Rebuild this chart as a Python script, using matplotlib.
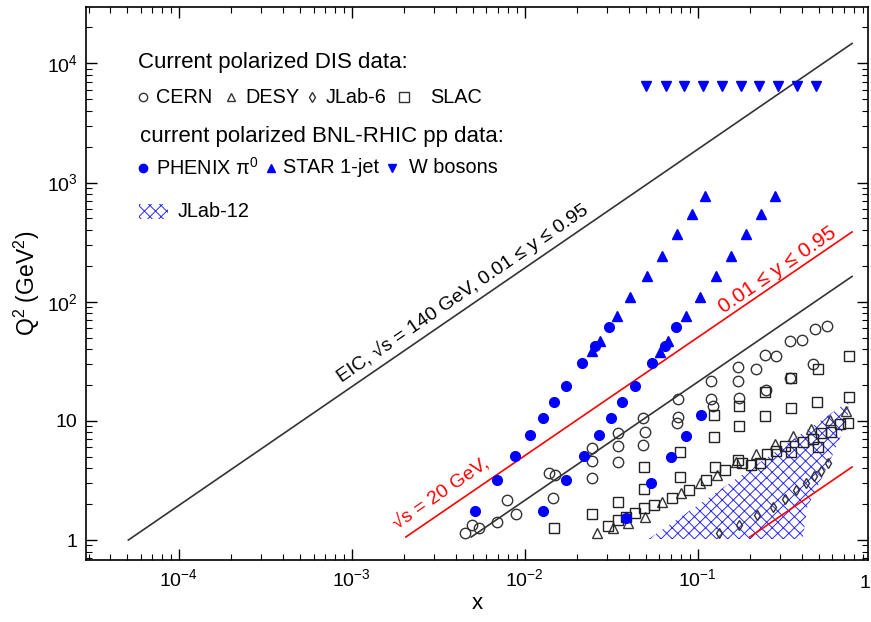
import matplotlib
matplotlib.use("Agg")
import matplotlib.pyplot as plt
from matplotlib.patches import Polygon, Rectangle

plt.rcParams['font.family'] = ['Liberation Sans', 'DejaVu Sans']
plt.rcParams['mathtext.fontset'] = 'custom'
plt.rcParams['mathtext.rm'] = 'Liberation Sans'
plt.rcParams['mathtext.it'] = 'Liberation Sans:italic'
plt.rcParams['mathtext.bf'] = 'Liberation Sans:bold'
plt.rcParams['hatch.linewidth'] = 0.7

# ---- data ----
# kinematic limit lines (end points)
eic_x = [5.1e-5, 0.78]
eic_q2 = [1.0, 14700]
red20_x = [2.05e-3, 0.78]
red20_q2 = [1.06, 385]
mid_x = [4.9e-3, 0.78]
mid_q2 = [1.06, 163]
low_x = [0.20, 0.78]
low_q2 = [1.06, 4.1]

# JLab-12 coverage region
jlab12_x = [0.052, 0.74, 0.745, 0.67, 0.56, 0.43, 0.405]
jlab12_q2 = [1.02, 14.5, 11.7, 7.38, 4.08, 1.89, 1.02]

cern_x = [0.00450, 0.00492, 0.00544, 0.00686, 0.00884, 0.00784, 0.0138, 0.0149, 0.0145,
          0.0243, 0.0245, 0.0245, 0.0346, 0.0346, 0.0344, 0.0483, 0.0494, 0.0483,
          0.0769, 0.0769, 0.0759, 0.120, 0.120, 0.123, 0.171, 0.171, 0.173,
          0.244, 0.247, 0.218, 0.285, 0.340, 0.401, 0.464, 0.475, 0.559, 0.340]
cern_q2 = [1.14, 1.34, 1.25, 1.41, 1.64, 2.17, 3.68, 3.52, 2.24,
           3.34, 4.61, 5.90, 7.97, 6.20, 4.50, 10.5, 8.13, 6.29,
           15.3, 10.7, 9.68, 21.8, 15.3, 13.2, 28.3, 21.4, 15.7,
           35.9, 18.2, 27.2, 35.2, 46.4, 47.9, 30.0, 59.0, 62.9, 23.1]

desy_x = [0.0260, 0.0324, 0.0395, 0.0494, 0.0625, 0.0805, 0.103, 0.129, 0.167,
          0.218, 0.279, 0.353, 0.454, 0.579, 0.724]
desy_q2 = [1.14, 1.25, 1.40, 1.55, 2.10, 2.47, 3.00, 3.52, 4.55,
           5.28, 6.41, 7.48, 8.57, 10.2, 12.2]

jlab6_x = [0.132, 0.173, 0.220, 0.272, 0.318, 0.369, 0.425, 0.468, 0.519, 0.566]
jlab6_q2 = [1.14, 1.34, 1.62, 1.88, 2.20, 2.63, 3.00, 3.45, 3.82, 4.41]

slac_x = [0.0147, 0.0245, 0.0346, 0.0303, 0.0346, 0.0387, 0.0432, 0.0487, 0.0557,
          0.0705, 0.0891, 0.112, 0.125, 0.143, 0.171, 0.179, 0.203, 0.228, 0.250,
          0.285, 0.321, 0.348, 0.406, 0.464, 0.496, 0.519, 0.587, 0.662, 0.739,
          0.0487, 0.0487, 0.0787, 0.0787, 0.124, 0.124, 0.173, 0.173, 0.246, 0.246,
          0.348, 0.348, 0.489, 0.496, 0.749, 0.746]
slac_q2 = [1.25, 1.64, 2.10, 1.31, 1.47, 1.57, 1.70, 1.85, 1.97,
           2.24, 2.63, 3.19, 4.08, 3.88, 4.70, 4.46, 4.27, 4.46, 5.28,
           5.63, 6.20, 5.52, 6.70, 7.02, 6.01, 7.88, 8.13, 9.44, 9.68,
           4.08, 2.68, 5.46, 3.37, 11.2, 7.38, 9.13, 13.4, 10.9, 17.3,
           12.9, 23.1, 14.3, 27.2, 15.8, 35.2]

phenix_x = [0.00514, 0.00686, 0.00879, 0.0107, 0.0127, 0.0147, 0.0172, 0.0214, 0.0254, 0.0306,
            0.0128, 0.0172, 0.0220, 0.0269, 0.0317, 0.0364, 0.0432, 0.0544, 0.0645, 0.0753,
            0.0384, 0.0540, 0.0698, 0.0860, 0.104]
phenix_q2 = [1.75, 3.19, 5.08, 7.58, 10.5, 14.3, 19.7, 30.5, 42.1, 60.8,
             1.75, 3.19, 5.08, 7.58, 10.5, 14.3, 19.7, 30.5, 42.1, 60.8,
             1.53, 3.01, 4.95, 7.52, 11.2]

star_x = [0.110, 0.0932, 0.0759, 0.0620, 0.0509, 0.0406, 0.0343, 0.0271, 0.0243,
          0.279, 0.233, 0.191, 0.155, 0.127, 0.103, 0.0860, 0.0673, 0.0603]
star_q2 = [778, 549, 371, 240, 165, 109, 75.2, 47.0, 38.2,
           778, 549, 371, 240, 165, 109, 75.2, 47.0, 37.5]

wbos_x = [0.0505, 0.0651, 0.0833, 0.107, 0.138, 0.177, 0.226, 0.291, 0.375, 0.481]
wbos_q2 = [6500] * 10

yticks = [1, 10, 100, 1000, 10000]
ytick_labels = ['1', '10', '$10^2$', '$10^3$', '$10^4$']
xticks = [1e-4, 1e-3, 1e-2, 1e-1]
xtick_labels = ['$10^{-4}$', '$10^{-3}$', '$10^{-2}$', '$10^{-1}$']

BLUE = '#0000ff'
LINE = '#333333'

fig = plt.figure(figsize=(8.71, 6.22), dpi=100)
ax = fig.add_axes([0.0987, 0.0997, 0.8979, 0.889])
ax.set_xscale('log')
ax.set_yscale('log')
ax.set_xlim(2.9e-5, 0.965)
ax.set_ylim(0.68, 2.97e4)

# lines
ax.plot(eic_x, eic_q2, color=LINE, lw=1.2)
ax.plot(mid_x, mid_q2, color=LINE, lw=1.2)
ax.plot(red20_x, red20_q2, color='red', lw=1.2)
ax.plot(low_x, low_q2, color='red', lw=1.2)

# JLab-12 hatched region
ax.add_patch(Polygon(list(zip(jlab12_x, jlab12_q2)), closed=True, facecolor='none',
                     edgecolor='#2a2aff', hatch='xxx', linewidth=0))

# DIS data
ax.plot(cern_x, cern_q2, 'o', ms=7.5, mfc='none', mec='#333333', mew=1.0, ls='none')
ax.plot(desy_x, desy_q2, '^', ms=7, mfc='none', mec='#333333', mew=1.0, ls='none')
ax.plot(jlab6_x, jlab6_q2, 'd', ms=5.5, mfc='none', mec='#333333', mew=1.0, ls='none')
ax.plot(slac_x, slac_q2, 's', ms=7.5, mfc='none', mec='#222222', mew=1.0, ls='none')

# RHIC data
ax.plot(phenix_x, phenix_q2, 'o', ms=7, color=BLUE, ls='none')
ax.plot(star_x, star_q2, '^', ms=7, color=BLUE, ls='none')
ax.plot(wbos_x, wbos_q2, 'v', ms=7, color=BLUE, ls='none')

# line labels
ax.text(0.00439, 117, 'EIC, √s = 140 GeV, 0.01 ≤ y ≤ 0.95', rotation=34.5,
        ha='center', va='center', fontsize=14, color='black', rotation_mode='anchor')
ax.text(0.290, 186, '0.01 ≤ y ≤ 0.95', rotation=34.5, ha='center', va='center',
        fontsize=15, color='red', rotation_mode='anchor')
ax.text(0.00331, 2.44, '√s = 20 GeV,', rotation=34.5, ha='center', va='center',
        fontsize=14, color='red', rotation_mode='anchor')

# axes, ticks
ax.set_yticks(yticks)
ax.set_yticklabels(ytick_labels)
ax.set_xticks(xticks)
ax.set_xticklabels(xtick_labels)
ax.tick_params(which='both', direction='in', top=True, right=True, labelsize=14)
ax.tick_params(which='major', length=8, width=1)
ax.tick_params(which='minor', length=4, width=0.8)
ax.tick_params(axis='x', pad=6)
ax.tick_params(axis='y', pad=6)
for s in ax.spines.values():
    s.set_linewidth(1.2)
ax.text(1.0, -0.027, '1', transform=ax.get_xaxis_transform(), ha='right', va='top',
        fontsize=14, clip_on=False)
ax.set_xlabel('x', fontsize=16, labelpad=2)
ax.set_ylabel('Q$^2$ (GeV$^2$)', fontsize=16.5, labelpad=3)

# legend block
tr = ax.transAxes
ax.text(0.0665, 0.899, 'Current polarized DIS data:', transform=tr, fontsize=16, va='center')
row2 = 0.837
for mx, tx, mk, lab, msz in [(0.0729, 0.0895, 'o', 'CERN', 6),
                             (0.1854, 0.2033, '^', 'DESY', 6),
                             (0.289, 0.3069, 'd', 'JLab-6', 5),
                             (0.4066, 0.4399, 's', 'SLAC', 6.5)]:
    ax.plot([mx], [row2], mk, ms=msz, mfc='none', mec='#333333', mew=1.0,
            transform=tr, clip_on=False)
    ax.text(tx, row2, lab, transform=tr, fontsize=14.3, va='center')
ax.text(0.069, 0.765, 'current polarized BNL-RHIC pp data:', transform=tr, fontsize=16,
        va='center')
row4 = 0.709
for mx, tx, mk, lab in [(0.0729, 0.0895, 'o', 'PHENIX π$^0$'),
                        (0.2366, 0.2519, '^', 'STAR 1-jet'),
                        (0.3913, 0.413, 'v', 'W bosons')]:
    ax.plot([mx], [row4], mk, ms=6, color=BLUE, transform=tr, clip_on=False)
    ax.text(tx, row4, lab, transform=tr, fontsize=14.3, va='center')
ax.add_patch(Rectangle((0.0678, 0.6166), 0.037, 0.027, transform=tr, facecolor='none',
                       edgecolor='#2a2aff', hatch='xxx', linewidth=0))
ax.text(0.1176, 0.631, 'JLab-12', transform=tr, fontsize=14.3, va='center')

fig.savefig('out.png', dpi=100)
